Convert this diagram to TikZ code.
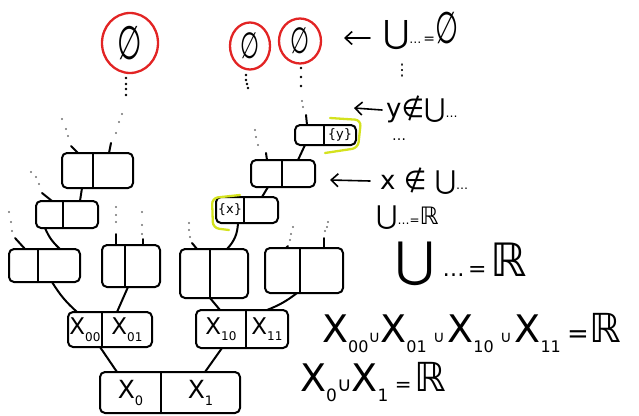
\documentclass[tikz,border=0pt]{standalone}
\usepackage{fontspec}
\setmainfont{DejaVu Sans}
\usetikzlibrary{shapes.geometric,arrows.meta}
\definecolor{hred}{RGB}{226,36,36}
\definecolor{hyel}{RGB}{212,226,30}
\newcommand\fs[1]{\fontsize{#1}{#1}\selectfont}
\newcommand\lsub[2]{\raisebox{-0.28em}{\fs{#1}#2}}
\newcommand\tallempty[1]{\scalebox{0.78}[1.3]{\fs{#1}∅}}
\newcommand\tbox[8]{%
  \node[box, minimum width={#4-#2}, minimum height={#5-#3}] (#1) at ({(#2+#4)/2},{(#3+#5)/2}) {};
  \draw[ink] (#6,#3) -- (#6,#5);
  \node[lab] (#1l) at ({(#2+#6)/2},{(#3+#5)/2}) {#7};
  \node[lab] (#1r) at ({(#6+#4)/2},{(#3+#5)/2}) {#8};
}
\begin{document}
\begin{tikzpicture}[x=1pt,y=-1pt,
  ink/.style={line width=2pt, line cap=round, line join=round},
  box/.style={draw, ink, rounded corners=5pt, inner sep=0pt, outer sep=0pt},
  lab/.style={inner sep=0pt},
  emptyring/.style={ellipse, draw=hred, line width=2.3pt, inner sep=0pt},
  arr/.style={ink, line width=1.6pt, -{Straight Barb[length=7pt,width=13pt]}},
  hl/.style={draw=hyel, line width=2.3pt, line cap=round, rounded corners=6pt},
  gdot/.style={fill=black!55},
  bdot/.style={fill=black}
]
\useasboundingbox (0,0) rectangle (639,415);

% ---- boxes ----
\tbox{b0}{100}{372}{240}{413}{161}{\fs{25}X\lsub{13}{0}}{\fs{25}X\lsub{13}{1}}
\tbox{b00}{68}{312}{152}{347}{102}{\fs{23}X\lsub{12}{00}}{\fs{23}X\lsub{12}{01}}
\tbox{b10}{196}{310}{288}{348}{246}{\fs{23}X\lsub{12}{10}}{\fs{23}X\lsub{12}{11}}
\tbox{bA}{9}{249}{80}{282}{38}{}{}
\tbox{bB}{102}{245}{160}{287}{125}{}{}
\tbox{bC}{180}{249}{248}{298}{210}{}{}
\tbox{bD}{265}{248}{343}{293}{300}{}{}
\tbox{bE}{36}{201}{98}{228}{63}{}{}
\tbox{bF}{216}{197}{278}{223}{244}{\fs{13}\{x\}}{}
\tbox{bG}{62}{153}{133}{188}{93}{}{}
\tbox{bH}{251}{160}{315}{187}{282}{}{}
\tbox{bI}{295}{125}{356}{145}{324}{}{\fs{13}\{y\}}

% ---- connectors ----
\draw[ink] ([xshift=17pt]b0.north west) -- ([xshift=32pt]b00.south west);
\draw[ink] ([xshift=105pt]b0.north west) -- ([xshift=26pt]b10.south west);
\draw[ink] ([xshift=9pt]b00.north west) to[bend left=8] ([xshift=43pt]bA.south west);
\draw[ink] ([xshift=49pt]b00.north west) -- ([xshift=26pt]bB.south west);
\draw[ink] ([xshift=24pt]b10.north west) -- ([xshift=30pt]bC.south west);
\draw[ink] ([xshift=71pt]b10.north west) to[bend right=8] ([xshift=32pt]bD.south west);
\draw[ink] ([xshift=51pt]bA.north west) to[bend left=12] ([xshift=9pt]bE.south west);
\draw[ink] ([xshift=47pt]bC.north west) to[bend right=20] ([xshift=22pt]bF.south west);
\draw[ink] ([xshift=44pt]bE.north west) -- ([xshift=20pt]bG.south west);
\draw[ink] ([xshift=46pt]bF.north west) -- ([xshift=17pt]bH.south west);
\draw[ink] ([xshift=47pt]bH.north west) -- ([xshift=10pt]bI.south west);

% ---- open stubs ----
\coordinate (sA) at (15,238);
\coordinate (sB1) at (116,234);
\coordinate (sB2) at (143,239);
\coordinate (sC) at (192,243);
\coordinate (sD1) at (288,246);
\coordinate (sD2) at (324,238);
\coordinate (sE) at (42,193);
\coordinate (sG1) at (71,146);
\coordinate (sG2) at (111,143);
\coordinate (sH) at (266,153);
\coordinate (sI) at (306,115);
\draw[ink] ([xshift=16pt]bA.north west) -- (sA);
\draw[ink] ([xshift=14pt]bB.north west) -- (sB1);
\draw[ink] ([xshift=41pt]bB.north west) -- (sB2);
\draw[ink] ([xshift=17pt]bC.north west) -- (sC);
\draw[ink] ([xshift=21pt]bD.north west) -- (sD1);
\draw[ink] ([xshift=59pt]bD.north west) -- (sD2);
\draw[ink] ([xshift=16pt]bE.north west) -- (sE);
\draw[ink] ([xshift=16pt]bG.north west) -- (sG1);
\draw[ink] ([xshift=47pt]bG.north west) -- (sG2);
\draw[ink] ([xshift=16pt]bH.north west) -- (sH);
\draw[ink] ([xshift=12pt]bI.north west) -- (sI);

% ---- dotted continuations ----
\foreach \x/\y in {12/231,11/222,9/212, 116/222,116/215,116/207, 142/234,142/225,142/212,
  190/237,189/230,189/223, 290/240,291/234,293/227, 325/231,327/227,328/222,
  39/184,36/177,31/172, 68/136,66/129,62/119, 116/133,119/122,122/114,
  258/145,256/137,255/130, 303/107,302/101}
  \fill[gdot] (\x,\y) circle (1.1);
\foreach \x/\y in {126/78,126/84,126/89,126/95, 246/75,246/80,247/84,248/88, 301/68,301/77,301/86}
  \fill[bdot] (\x,\y) circle (1.4);

% ---- empty-set rings ----
\node[emptyring, minimum width=56pt, minimum height=60pt] (c1) at (130,43) {\tallempty{36}};
\node[emptyring, minimum width=40pt, minimum height=47pt] (c2) at (250,46) {\tallempty{28}};
\node[emptyring, minimum width=42pt, minimum height=45pt] (c3) at (300,41) {\tallempty{28}};

% ---- yellow highlights ----
\draw[hl] (240,195) -- (212,198) -- (213,228) -- (229,230);
\draw[hl] (330,118) -- (361,120) -- (358,148) -- (325,153);

% ---- right-hand text ----
\node[lab, anchor=west] (t1) at (383,31) {\fs{32}⋃\fs{12}…\,\fs{14}=\tallempty{34}};
\coordinate (h1) at (344,38);
\draw[arr] ([xshift=-13pt,yshift=-7pt]t1.west) -- (h1);
\node[lab] (t2) at (402,71) {\fs{16}⋮};
\node[lab, anchor=west] (t3) at (386,109) {\fs{26}y∉⋃\fs{12}…};
\coordinate (h3) at (354,108);
\draw[arr] ([xshift=-4pt,yshift=-1pt]t3.west) -- (h3);
\node[lab] (t4) at (399,140) {\fs{14}…};
\node[lab, anchor=west] (t5) at (380,181) {\fs{26}x ∉ ⋃\fs{12}…};
\coordinate (h5) at (330,180);
\draw[arr] ([xshift=-10pt]t5.west) -- (h5);
\node[lab, anchor=west] (t6) at (376,218) {\fs{26}⋃\fs{12}…\fs{12}=\fs{24}ℝ};
\node[lab, anchor=west] (t7) at (395,264) {\fs{48}⋃\,\fs{22}…\,\fs{22}=\,\fs{46}ℝ};
\node[lab, anchor=west] (t8) at (322,333) {\fs{38}X\lsub{16}{00}\fs{16}∪\fs{38}X\lsub{16}{01}\,\fs{16}∪\,\fs{38}X\lsub{16}{10}\,\fs{16}∪\,\fs{38}X\lsub{16}{11}\,\fs{26}=\fs{40}ℝ};
\node[lab, anchor=west] (t9) at (300,382) {\fs{38}X\lsub{17}{0}\fs{20}∪\fs{38}X\lsub{17}{1}\,\fs{20}=\,\fs{40}ℝ};
\end{tikzpicture}
\end{document}
